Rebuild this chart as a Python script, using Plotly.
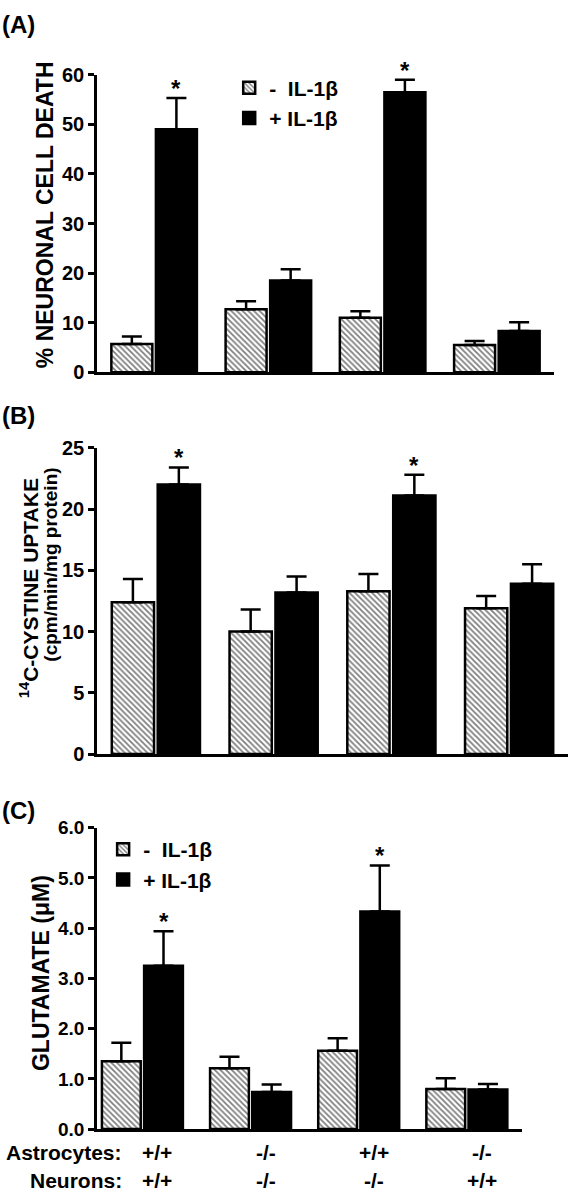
import plotly.graph_objects as go

# ---------------- data ----------------
groups = [0, 1, 2, 3]
astrocytes = ["+/+", "-/-", "+/+", "-/-"]
neurons = ["+/+", "-/-", "-/-", "+/+"]
series_names = ["-  IL-1β", "+ IL-1β"]

# Panel A: % neuronal cell death
a_minus = [5.7, 12.7, 11.0, 5.5]
a_minus_err = [1.5, 1.6, 1.3, 0.8]
a_plus = [49.0, 18.5, 56.5, 8.3]
a_plus_err = [6.3, 2.3, 2.5, 1.8]
a_sig = [False, False, False, False], [True, False, True, False]

# Panel B: 14C-cystine uptake
b_minus = [12.4, 10.0, 13.3, 11.9]
b_minus_err = [1.9, 1.8, 1.4, 1.0]
b_plus = [22.0, 13.2, 21.1, 13.9]
b_plus_err = [1.4, 1.3, 1.7, 1.6]
b_sig = [False, False, False, False], [True, False, True, False]

# Panel C: glutamate
c_minus = [1.35, 1.21, 1.56, 0.80]
c_minus_err = [0.37, 0.23, 0.25, 0.21]
c_plus = [3.25, 0.74, 4.33, 0.79]
c_plus_err = [0.69, 0.15, 0.92, 0.11]
c_sig = [False, False, False, False], [True, False, True, False]

FONT = "Arial, 'Liberation Sans', sans-serif"
BARGAP = 0.22
BARGROUPGAP = 0.08

def bfont(size):
    return dict(family=FONT, size=size, color="black", weight="bold")

fig = go.Figure()

panels = [
    ("x", "y", a_minus, a_minus_err, a_plus, a_plus_err, a_sig, "legend"),
    ("x2", "y2", b_minus, b_minus_err, b_plus, b_plus_err, b_sig, None),
    ("x3", "y3", c_minus, c_minus_err, c_plus, c_plus_err, c_sig, "legend2"),
]

for xa, ya, vm, em, vp, ep, sig, leg in panels:
    for k, (vals, errs, name) in enumerate([(vm, em, series_names[0]), (vp, ep, series_names[1])]):
        hatched = k == 0
        marker = dict(
            color="white" if hatched else "black",
            line=dict(color="black", width=2.5),
        )
        if hatched:
            marker["pattern"] = dict(shape="\\", fgcolor="black", bgcolor="white",
                                     size=4, solidity=0.45)
        fig.add_trace(go.Bar(
            x=groups, y=vals, name=name, xaxis=xa, yaxis=ya,
            marker=marker,
            error_y=dict(type="data", array=errs, arrayminus=[0] * len(errs),
                         symmetric=False, color="black", thickness=2.5, width=10),
            showlegend=leg is not None,
            legend=leg if leg else "legend",
        ))
    slot = (1 - BARGAP) / 2
    for k, (vals, errs) in enumerate([(vm, em), (vp, ep)]):
        for i, g in enumerate(groups):
            if sig[k][i]:
                fig.add_annotation(
                    x=g - slot / 2 + k * slot, y=vals[i] + errs[i], xref=xa, yref=ya,
                    text="*", showarrow=False, yanchor="bottom", yshift=-6,
                    font=bfont(24))

fig.update_layout(
    width=573, height=1199,
    margin=dict(l=0, r=0, t=0, b=0),
    paper_bgcolor="white", plot_bgcolor="white",
    barmode="group", bargap=BARGAP, bargroupgap=BARGROUPGAP,
    font=bfont(20),
    legend=dict(x=0.400, y=0.952, xanchor="left", yanchor="top",
                font=bfont(21), bgcolor="rgba(0,0,0,0)",
                tracegroupgap=0, itemwidth=30),
    legend2=dict(x=0.180, y=0.305, xanchor="left", yanchor="top",
                 font=bfont(21), bgcolor="rgba(0,0,0,0)",
                 tracegroupgap=0, itemwidth=30),
)

axis_common = dict(showline=True, linecolor="black", linewidth=2.5, mirror=False,
                   showgrid=False, zeroline=False)
xcommon = dict(axis_common, showticklabels=False, ticks="")
ycommon = dict(axis_common, ticks="outside", ticklen=6, tickwidth=2.5, tickcolor="black")

H = 1199.0
W = 573.0
fig.update_layout(
    xaxis=dict(xcommon, domain=[97 / W, 554 / W], range=[-0.5, 3.5], anchor="y"),
    yaxis=dict(ycommon, domain=[1 - 368 / H, 1 - 65 / H], range=[0, 60],
               tickvals=[0, 10, 20, 30, 40, 50, 60], anchor="x", tickfont=bfont(20)),
    xaxis2=dict(xcommon, domain=[97 / W, 568 / W], range=[-0.5, 3.5], anchor="y2"),
    yaxis2=dict(ycommon, domain=[1 - 757 / H, 1 - 445 / H], range=[0, 25],
                tickvals=[0, 5, 10, 15, 20, 25], anchor="x2", tickfont=bfont(20)),
    xaxis3=dict(xcommon, domain=[97 / W, 522 / W], range=[-0.42, 3.51], anchor="y3"),
    yaxis3=dict(ycommon, domain=[1 - 1139 / H, 1 - 832 / H], range=[0, 6],
                tickvals=[0, 1, 2, 3, 4, 5, 6], tickformat=".1f", anchor="x3",
                tickfont=bfont(19)),
)

def paper_text(text, xpix, ypix, size, xanchor="center", yanchor="middle", angle=0):
    fig.add_annotation(x=xpix / W, y=1 - ypix / H, xref="paper", yref="paper",
                       text=text, textangle=angle, showarrow=False,
                       xanchor=xanchor, yanchor=yanchor, font=bfont(size))

# y-axis titles
paper_text("% NEURONAL CELL DEATH", 45, 208, 23, angle=-90)
paper_text("<sup>14</sup>C-CYSTINE UPTAKE", 29, 588, 21, angle=-90)
paper_text("(cpm/min/mg protein)", 51, 564, 19, angle=-90)
paper_text("GLUTAMATE (μM)", 41, 980, 23, angle=-90)

# panel letters
for lab, ypix in [("(A)", 14), ("(B)", 412), ("(C)", 814)]:
    paper_text(lab, 0, ypix, 24, xanchor="left")

# genotype labels below panel C
paper_text("Astrocytes:", 124, 1163, 21, xanchor="right")
paper_text("Neurons:", 124, 1191, 21, xanchor="right")
for g, a, n in zip(groups, astrocytes, neurons):
    fig.add_annotation(x=g, y=1 - 1163 / H, xref="x3", yref="paper", text=a,
                       showarrow=False, xshift=15, yanchor="middle", font=bfont(21))
    fig.add_annotation(x=g, y=1 - 1191 / H, xref="x3", yref="paper", text=n,
                       showarrow=False, xshift=15, yanchor="middle", font=bfont(21))

fig.write_html("out.html", config={"displayModeBar": False},
               post_script="document.body.style.margin='0';document.body.style.overflow='hidden';")
